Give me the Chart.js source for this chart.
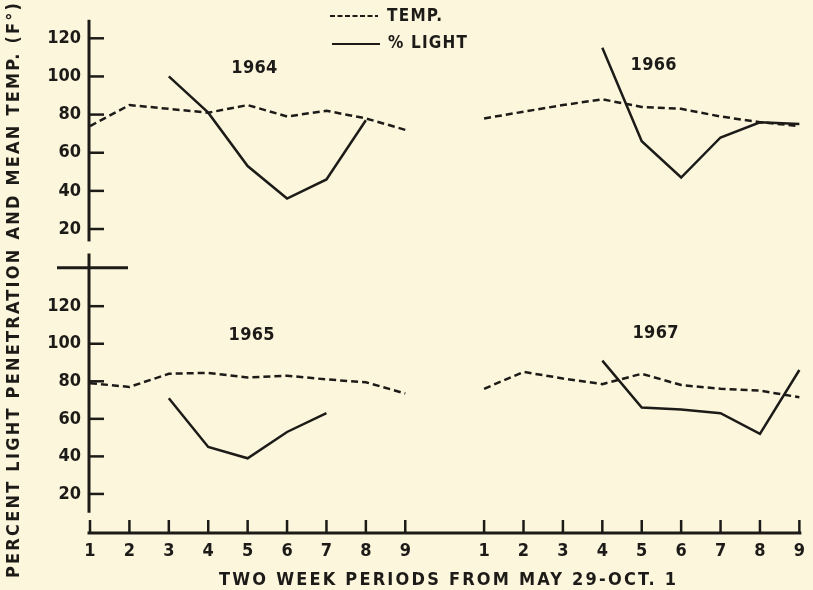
<!DOCTYPE html>
<html>
<head>
<meta charset="utf-8">
<script src="https://cdn.jsdelivr.net/npm/chart.js@4"></script>
<style>
  html, body { margin: 0; padding: 0; background: #fcf6dd; }
  #wrap { width: 813px; height: 590px; }
</style>
</head>
<body>
<div id="wrap"><canvas id="c" width="813" height="590"></canvas></div>
<script>
// Light penetration vs. mean temperature, two-week periods, 1964-1967.
// Left group of each panel sits at x 1..9, right group at x 11..19.
const PERIODS = [1, 2, 3, 4, 5, 6, 7, 8, 9];
const X_TICK_LABELS = ['1', '2', '3', '4', '5', '6', '7', '8', '9', '',
  '1', '2', '3', '4', '5', '6', '7', '8', '9'];
const Y_TICKS = [20, 40, 60, 80, 100, 120];

const TEMP_1964 = [74, 85, 83, 81, 85, 79, 82, 78, 72];
const LIGHT_1964 = [null, null, 100, 81, 53, 36, 46, 77, null];
const TEMP_1966 = [78, 81.5, 85, 88, 84, 83, 79, 76, 74];
const LIGHT_1966 = [null, null, null, 115, 66, 47, 68, 76, 75];
const TEMP_1965 = [79, 77, 84, 84.5, 82, 83, 81, 79.5, 73.5];
const LIGHT_1965 = [null, null, 71, 45, 39, 53, 63, null, null];
const TEMP_1967 = [76, 85, 81.5, 78.5, 84, 78, 76, 75, 71.5];
const LIGHT_1967 = [null, null, null, 91, 66, 65, 63, 52, 86];

const YEARS = ['1964', '1966', '1965', '1967'];

const INK = '#1d1b18';
const BG = '#fcf6dd';
const FONT = '"DejaVu Sans Condensed", "DejaVu Sans", sans-serif';

function pts(vals, offset) {
  return PERIODS.map((p, i) => ({ x: p + offset, y: vals[i] })).filter((d) => d.y != null);
}
function series(label, vals, offset, axis, dashed) {
  return {
    label, data: pts(vals, offset), yAxisID: axis,
    borderColor: INK, borderWidth: 2.5, borderDash: dashed ? [7, 4] : [],
    pointRadius: 0, tension: 0, fill: false, clip: false
  };
}

// year caption anchors, in data units of each panel
const YEAR_AT = [
  { x: 5.17, y: 104, axis: 'yTop' },
  { x: 15.3, y: 105.6, axis: 'yTop' },
  { x: 5.1, y: 104.4, axis: 'yBot' },
  { x: 15.35, y: 105.4, axis: 'yBot' }
];

function line(ctx, x1, y1, x2, y2) {
  ctx.beginPath(); ctx.moveTo(x1, y1); ctx.lineTo(x2, y2); ctx.stroke();
}
function spaced(ctx, text, x0, y, width) {
  ctx.letterSpacing = '0px';
  const w = ctx.measureText(text).width;
  ctx.letterSpacing = ((width - w) / (text.length - 1)) + 'px';
  ctx.fillText(text, x0, y);
  ctx.letterSpacing = '0px';
}

const decor = {
  id: 'decor',
  beforeDraw(chart) {
    const ctx = chart.ctx;
    ctx.save(); ctx.fillStyle = BG; ctx.fillRect(0, 0, chart.width, chart.height); ctx.restore();
  },
  afterDraw(chart) {
    const ctx = chart.ctx, a = chart.chartArea;
    const xs = chart.scales.x, yt = chart.scales.yTop, yb = chart.scales.yBot;
    ctx.save();
    ctx.strokeStyle = INK; ctx.fillStyle = INK; ctx.lineCap = 'butt';

    // axes
    ctx.lineWidth = 3;
    const ax = a.left - 1;
    line(ctx, ax, yt.top, ax, yt.getPixelForValue(13.5));
    line(ctx, ax, yb.top, ax, yb.getPixelForValue(10));
    const cy = yb.getPixelForValue(140.5);
    line(ctx, ax - 32, cy, ax + 39, cy);
    line(ctx, ax - 1.5, a.bottom, a.right + 2, a.bottom);
    ctx.lineWidth = 2.5;
    Y_TICKS.forEach((v) => {
      [yt, yb].forEach((s) => { const p = s.getPixelForValue(v); line(ctx, ax, p, ax + 15, p); });
    });
    X_TICK_LABELS.forEach((t, i) => {
      if (!t) return;
      const p = xs.getPixelForValue(i + 1);
      line(ctx, p, a.bottom, p, a.bottom - 13);
    });

    // legend
    ctx.lineWidth = 2;
    ctx.setLineDash([5, 2.5]);
    line(ctx, 330, 16, 378, 16);
    ctx.setLineDash([]);
    line(ctx, 332, 44, 380, 44);
    ctx.font = 'bold 17px ' + FONT;
    ctx.textBaseline = 'middle'; ctx.textAlign = 'left';
    spaced(ctx, 'TEMP.', 387, 17, 55);
    spaced(ctx, '% LIGHT', 388, 44, 79);

    // year captions
    ctx.font = 'bold 18px ' + FONT;
    YEARS.forEach((yr, i) => {
      const at = YEAR_AT[i];
      const px = xs.getPixelForValue(at.x), py = chart.scales[at.axis].getPixelForValue(at.y);
      spaced(ctx, yr, px - 23, py, 46);
    });

    // axis titles
    ctx.font = 'bold 18px ' + FONT;
    spaced(ctx, 'TWO WEEK PERIODS FROM MAY 29-OCT. 1', 219, 580, 457);
    ctx.translate(14, 578);
    ctx.rotate(-Math.PI / 2);
    spaced(ctx, 'PERCENT LIGHT PENETRATION AND MEAN TEMP. (F°)', 0, 0, 575);
    ctx.restore();
  }
};

const tickFont = { family: FONT, size: 18, weight: 'bold' };
const yCommon = {
  type: 'linear', position: 'left', stack: 'panels',
  grid: { display: false, drawTicks: false }, border: { display: false },
  ticks: { color: INK, font: tickFont, padding: 9 },
  afterBuildTicks: (s) => { s.ticks = Y_TICKS.map((v) => ({ value: v })); },
  afterFit: (s) => { s.width = 42; }
};

new Chart(document.getElementById('c'), {
  type: 'line',
  data: {
    datasets: [
      series('1964 temp', TEMP_1964, 0, 'yTop', true),
      series('1964 light', LIGHT_1964, 0, 'yTop', false),
      series('1966 temp', TEMP_1966, 10, 'yTop', true),
      series('1966 light', LIGHT_1966, 10, 'yTop', false),
      series('1965 temp', TEMP_1965, 0, 'yBot', true),
      series('1965 light', LIGHT_1965, 0, 'yBot', false),
      series('1967 temp', TEMP_1967, 10, 'yBot', true),
      series('1967 light', LIGHT_1967, 10, 'yBot', false)
    ]
  },
  options: {
    responsive: false,
    animation: false,
    layout: { padding: { left: 48, top: 8, right: 7, bottom: 0 } },
    plugins: { legend: { display: false }, tooltip: { enabled: false } },
    scales: {
      x: {
        type: 'linear', min: 1, max: 19,
        grid: { display: false, drawTicks: false }, border: { display: false },
        ticks: { color: INK, font: tickFont, padding: 8, maxRotation: 0, autoSkip: false,
          callback: (v, i) => X_TICK_LABELS[i] },
        afterBuildTicks: (s) => { s.ticks = X_TICK_LABELS.map((_, i) => ({ value: i + 1 })); },
        afterFit: (s) => { s.height = 57; }
      },
      yBot: Object.assign({}, yCommon, { min: -0.8, max: 148.1, stackWeight: 286 }),
      yTop: Object.assign({}, yCommon, { min: 7.2, max: 129.7, stackWeight: 239 })
    }
  },
  plugins: [decor]
});
</script>
</body>
</html>
